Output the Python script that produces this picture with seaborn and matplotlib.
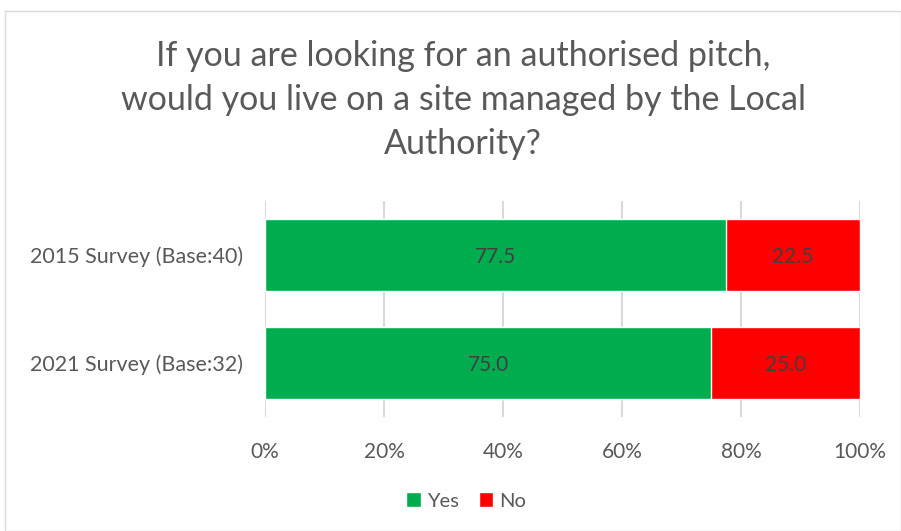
import matplotlib
matplotlib.use("Agg")
import matplotlib.pyplot as plt
import seaborn as sns
import pandas as pd
from matplotlib.patches import Patch, Rectangle

categories = ["2015 Survey (Base:40)", "2021 Survey (Base:32)"]
yes_values = [77.5, 75.0]
no_values = [22.5, 25.0]
xtick_values = [0, 20, 40, 60, 80, 100]
xtick_labels = ["0%", "20%", "40%", "60%", "80%", "100%"]
title = "If you are looking for an authorised pitch,\nwould you live on a site managed by the Local\nAuthority?"

GREEN = "#00AD4E"
RED = "#FF0000"
GRID = "#D9D9D9"
TXT = "#595959"
LBL = "#404040"

sns.set_theme(style="white")
plt.rcParams["font.family"] = ["Lato", "DejaVu Sans"]

df = pd.DataFrame({"cat": categories, "yes": yes_values, "no": no_values})
df["total"] = df["yes"] + df["no"]

fig = plt.figure(figsize=(9.01, 5.31), dpi=100)
ax = fig.add_axes([265/901, 1-417/531, 595/901, 216/531])

sns.barplot(data=df, y="cat", x="total", color=RED, orient="h", width=0.667,
            edgecolor="white", linewidth=1, ax=ax, zorder=3, saturation=1)
sns.barplot(data=df, y="cat", x="yes", color=GREEN, orient="h", width=0.667,
            edgecolor="white", linewidth=1, ax=ax, zorder=4, saturation=1)

for i, (y, n) in enumerate(zip(yes_values, no_values)):
    ax.text(y/2, i + 0.02, f"{y:.1f}", ha="center", va="center", fontsize=15, color=LBL, zorder=5)
    ax.text(y + n/2, i + 0.02, f"{n:.1f}", ha="center", va="center", fontsize=15, color=LBL, zorder=5)

ax.set_xlim(0, 100)
ax.set_ylim(1.5, -0.5)
ax.set_xticks(xtick_values)
ax.set_xticklabels(xtick_labels)
ax.tick_params(axis="x", length=0, labelsize=15, labelcolor=TXT, pad=18)
ax.tick_params(axis="y", length=0, labelsize=15.5, labelcolor=TXT, pad=16)
ax.set_xlabel("")
ax.set_ylabel("")
for v in xtick_values:
    ax.axvline(v, color=GRID, linewidth=1.5, zorder=1)
for s in ax.spines.values():
    s.set_visible(False)

fig.text(463/901, 1-100/531, title, ha="center", va="center", fontsize=24.5,
         color=TXT, linespacing=1.45)

handles = [Patch(facecolor=GREEN, label="Yes"), Patch(facecolor=RED, label="No")]
fig.legend(handles=handles, loc="center", bbox_to_anchor=(466/901, 1-501/531), ncol=2,
           frameon=False, fontsize=14.5, labelcolor=TXT, handlelength=0.7, handleheight=0.7,
           handletextpad=0.3, columnspacing=1.0)

fig.patches.append(Rectangle((5/901, 0), 1 - 5/901, 1 - 11/531, transform=fig.transFigure,
                             fill=False, edgecolor="#D9D9D9", linewidth=1))

fig.savefig("out.png", dpi=100)
